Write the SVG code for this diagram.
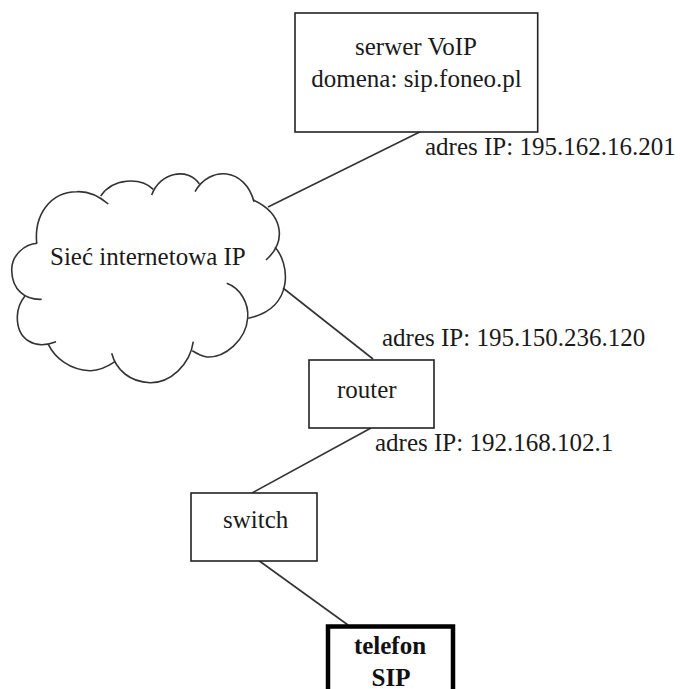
<svg xmlns="http://www.w3.org/2000/svg" width="680" height="689" viewBox="0 0 680 689">
<style>
text{font-family:"Liberation Serif","Times New Roman",serif;font-size:25px;fill:#1a1a1a}
.b{font-weight:bold;fill:#111}
.m{text-anchor:middle}
.box{fill:#fff;stroke:#222;stroke-width:1.6}
.thick{fill:#fff;stroke:#000;stroke-width:4.5}
.c{fill:none;stroke:#333;stroke-width:1.6}
.cloud path{fill:none;stroke:#333;stroke-width:1.6}
</style>
<rect width="680" height="689" fill="#fff"/>
<g id="connectors">
<line class="c" x1="421.7" y1="131" x2="268" y2="207"/>
<line class="c" x1="283" y1="288" x2="373" y2="359"/>
<line class="c" x1="371" y1="428" x2="252" y2="493"/>
<line class="c" x1="258" y1="560" x2="348" y2="625"/>
</g>
<g id="server">
<rect class="box" x="295" y="13" width="242.700" height="119"/>
<text class="m" x="416" y="55">serwer VoIP</text>
<text class="m" x="416.500" y="87">domena: sip.foneo.pl</text>
</g>
<text id="ip-server" x="425" y="155">adres IP: 195.162.16.201</text>
<g id="cloud">
<g class="cloud">
<path d="M36.700 243.300C34 215 50 192 76.700 191.700C88 191 100 197 108.300 204"/>
<path d="M100.700 196C113 178 140 177 153.300 189.300"/>
<path d="M151.700 195C160 172 188 167 199.300 184"/>
<path d="M195 191.700C210 165 245 168 254 201.700"/>
<path d="M253.300 200C282 213 288 240 266 260"/>
<path d="M275 247.300C289 262 296 308 248.300 318.300"/>
<path d="M226.700 283.300C240 288 249 303 247.700 318C246 340 225 358 207 357C201 356 196 353 192.300 350.700"/>
<path d="M193.300 341.700C190 365 170 383 150 382.700C130 382 116 370 111.700 353.300"/>
<path d="M115 361.700C107 367 98 371 90 370.700C70 370 55 358 48.300 344.300"/>
<path d="M56 341.700C35 350 17 340 17.300 316.700C17.500 308 20 302 25 296"/>
<path d="M41.700 299.300C25 300 12 290 11.700 270C11.500 255 25 244 37.300 243.300"/>
</g>
<text x="50" y="265">Sieć internetowa IP</text>
</g>
<text id="ip-wan" x="382" y="346">adres IP: 195.150.236.120</text>
<g id="router">
<rect class="box" x="309" y="360" width="125" height="68"/>
<text x="337" y="398">router</text>
</g>
<text id="ip-lan" x="375" y="451">adres IP: 192.168.102.1</text>
<g id="switch">
<rect class="box" x="191" y="493" width="126" height="68"/>
<text x="223" y="528">switch</text>
</g>
<g id="phone">
<rect class="thick" x="328" y="626.500" width="125" height="100"/>
<text class="m b" x="390" y="654">telefon</text>
<text class="m b" x="391" y="686">SIP</text>
</g>
</svg>
